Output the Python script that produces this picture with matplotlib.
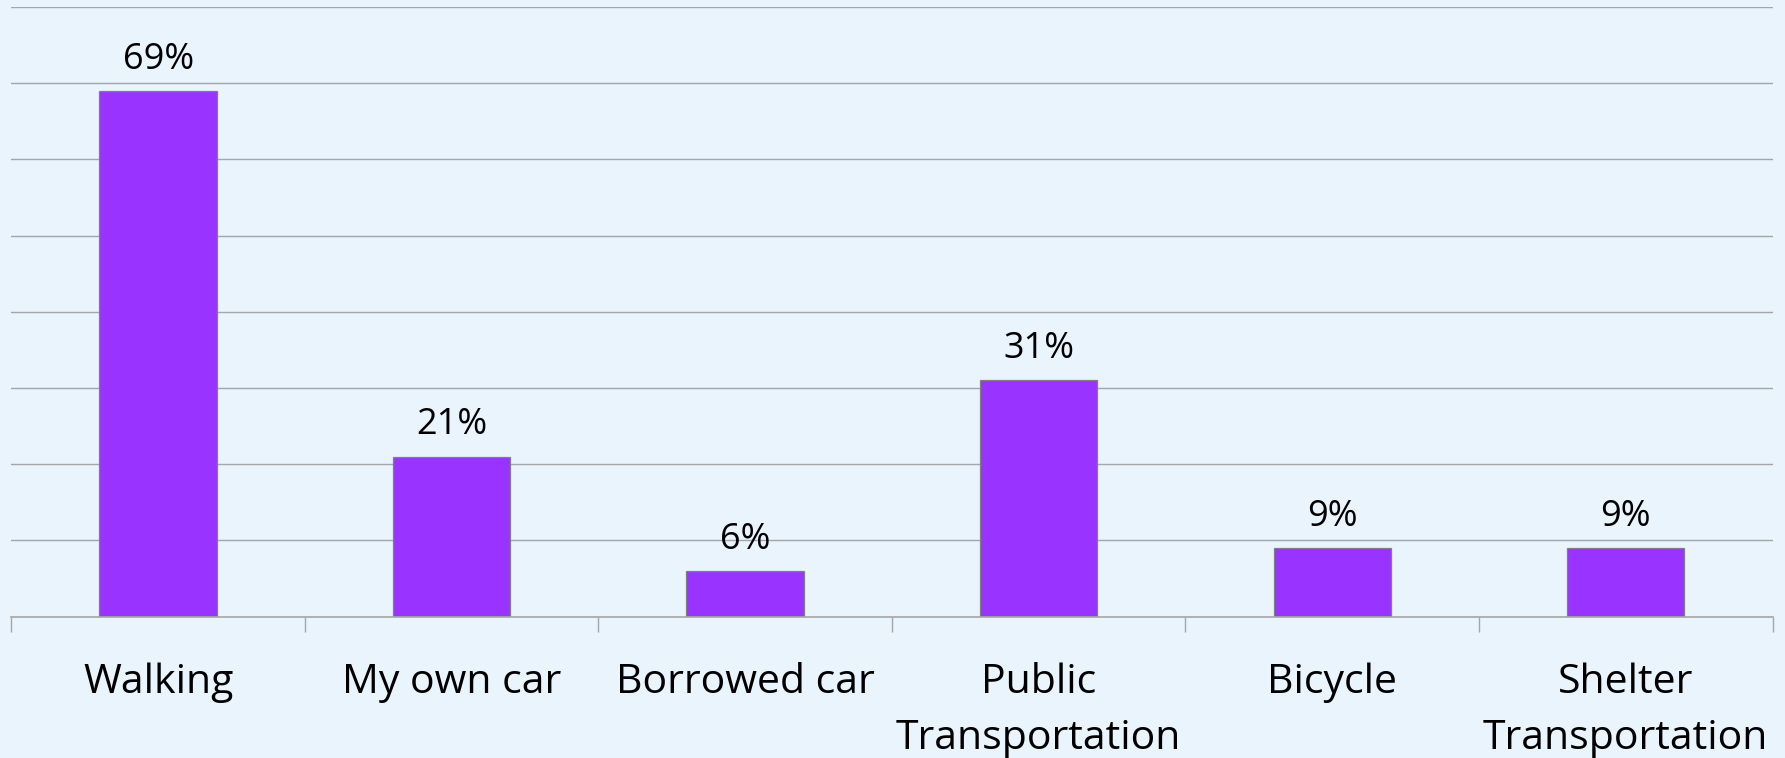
import matplotlib
matplotlib.use("Agg")
import matplotlib.pyplot as plt
import numpy as np

categories = ["Walking", "My own car", "Borrowed car", "Public\nTransportation", "Bicycle", "Shelter\nTransportation"]
values = [69, 21, 6, 31, 9, 9]
value_labels = ["69%", "21%", "6%", "31%", "9%", "9%"]
yticks = [0, 10, 20, 30, 40, 50, 60, 70, 80]

BG = "#EAF4FC"
GRID = "#A6A6A6"
BAR = "#9933FF"

plt.rcParams['font.family'] = ['Open Sans', 'DejaVu Sans']

W, H = 1785, 758
fig = plt.figure(figsize=(W / 100, H / 100), dpi=100, facecolor=BG)
ax = fig.add_axes([11.4 / W, (H - 616.7) / H, (1772.5 - 11.4) / W, (616.7 - 7) / H])
ax.set_facecolor(BG)

x = np.arange(len(categories))
bars = ax.bar(x, values, width=0.4, color=BAR, edgecolor="#808080", linewidth=0.9, zorder=3)

ax.set_xlim(-0.5, len(categories) - 0.5)
ax.set_ylim(0, 80)
ax.set_yticks(yticks)
ax.set_yticklabels([])
ax.tick_params(axis='y', length=0)
ax.grid(axis='y', color=GRID, linewidth=1.0, zorder=0)
ax.set_axisbelow(True)

for s in ['left', 'right', 'top']:
    ax.spines[s].set_visible(False)
ax.spines['bottom'].set_color(GRID)
ax.spines['bottom'].set_linewidth(1.2)
ax.spines['bottom'].set_zorder(4)

ax.set_xticks(x)
ax.set_xticklabels(categories, fontsize=29.5, linespacing=1.5)
ax.tick_params(axis='x', which='major', length=0, pad=33)
ax.set_xticks(np.arange(-0.5, len(categories)), minor=True)
ax.tick_params(axis='x', which='minor', length=11, width=1.0, color=GRID, direction='out')

for xi, v, lab in zip(x, values, value_labels):
    ax.annotate(lab, (xi, v), xytext=(0, 16), textcoords='offset points',
                ha='center', va='baseline', fontsize=26, color='black')

fig.savefig("out.png", dpi=100, facecolor=BG)
